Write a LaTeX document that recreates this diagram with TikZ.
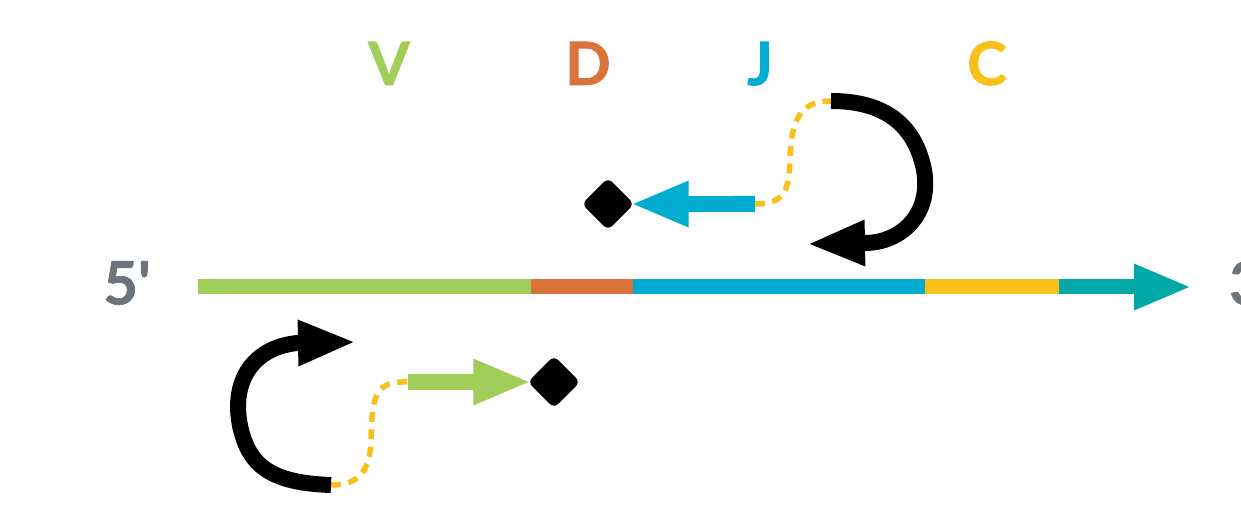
\documentclass[tikz,border=0pt]{standalone}
\usepackage{fontspec}
\setmainfont{Lato}[BoldFeatures={FakeBold=1.2}]
\usetikzlibrary{arrows.meta}
\definecolor{vgreen}{RGB}{161,205,90}
\definecolor{dorange}{RGB}{217,115,58}
\definecolor{jblue}{RGB}{0,172,208}
\definecolor{cyellow}{RGB}{249,192,26}
\definecolor{rteal}{RGB}{0,169,168}
\definecolor{endgray}{RGB}{109,115,122}
\begin{document}
\begin{tikzpicture}[x=0.02cm,y=-0.02cm,
  strand/.style={line width=0.3cm},
  bigtip/.style={-{Triangle[length=1.16cm,width=0.84cm]}},
  shaft/.style={line width=0.32cm, bigtip, shorten >=-0.08cm},
  loopline/.style={line width=0.32cm, black, bigtip},
  linker/.style={cyellow, line width=0.11cm, dash pattern=on 0.2cm off 0.15cm},
  endblock/.style={rectangle, fill=black, rotate=45, minimum size=0.74cm,
    rounded corners=0.12cm, inner sep=0pt},
  seglabel/.style={font=\fontsize{34}{34}\selectfont\bfseries, anchor=base, inner sep=0pt},
  endlabel/.style={font=\fontsize{34}{34}\selectfont\bfseries, text=endgray, inner sep=0pt}
]
\useasboundingbox (0,0) rectangle (1241,506);

% segment labels
\node[seglabel, text=vgreen]  (V) at (389,85) {V};
\node[seglabel, text=dorange] (D) at (588,85) {D};
\node[seglabel, text=jblue]   (J) at (760,85) {J};
\node[seglabel, text=cyellow] (C) at (987,85) {C};

% strand ends
\node[endlabel] (five) at (127,283) {5\textquotesingle};
\node[endlabel, anchor=west] (three) at (1229,283) {3\textquotesingle};

% the strand, segment by segment
\coordinate (s0) at (198,287);
\coordinate (s1) at (531,287);
\coordinate (s2) at (633,287);
\coordinate (s3) at (925,287);
\coordinate (s4) at (1059,287);
\coordinate (s5) at (1192,287);
\draw[strand, vgreen]  (s0) -- (s1);
\draw[strand, dorange] (s1) -- (s2);
\draw[strand, jblue]   (s2) -- (s3);
\draw[strand, cyellow] (s3) -- (s4);
\draw[strand, rteal, bigtip] (s4) -- (s5);

% upper construct
\node[endblock] (dJ) at (608,204) {};
\coordinate (jtail) at (755,204);
\coordinate (jloop) at (831,101);
\draw[shaft, jblue] (jtail) -- (dJ);
\draw[linker] (jtail) .. controls (785,204) and (789,190) .. (790,160)
  .. controls (791,120) and (800,101) .. (jloop);
\coordinate (jturn) at (865,243);
\coordinate (jtip) at (807,244);
\draw[loopline] (jloop) .. controls (885,101) and (915,125) .. (924,170)
  .. controls (932,215) and (900,243) .. (jturn) -- (jtip);

% lower construct
\node[endblock] (dV) at (554,382) {};
\coordinate (vtail) at (408,382);
\coordinate (vloop) at (331,485);
\draw[shaft, vgreen] (vtail) -- (dV);
\draw[linker] (vloop) .. controls (360,485) and (370,470) .. (371,440)
  .. controls (372,395) and (375,381) .. (vtail);
\coordinate (vturn) at (297,343);
\coordinate (vtip) at (356,342);
\draw[loopline] (vloop) .. controls (270,483) and (250,465) .. (241,430)
  .. controls (230,385) and (250,348) .. (vturn) -- (vtip);
\end{tikzpicture}
\end{document}
